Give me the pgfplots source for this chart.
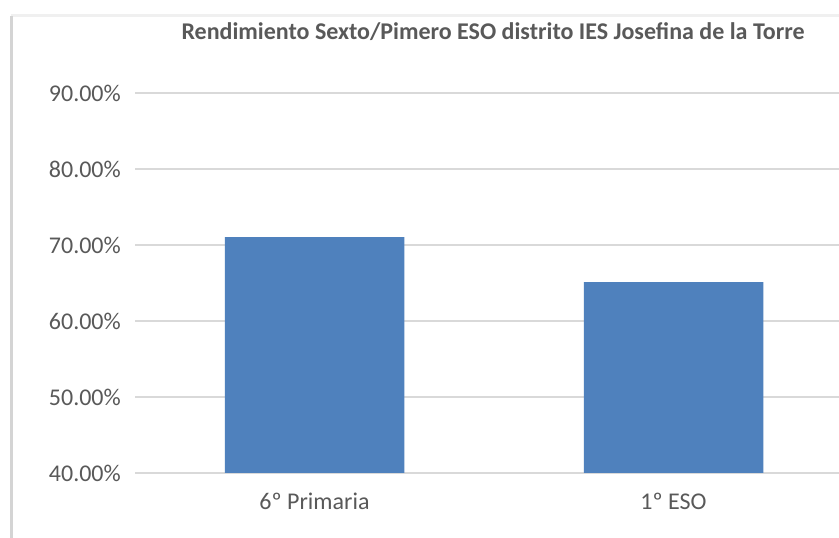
\documentclass[border=0pt]{standalone}
\usepackage{pgfplots}
\pgfplotsset{compat=1.18}
\usepackage{fontspec}
\setmainfont{Carlito}
\definecolor{barblue}{HTML}{4F81BD}
\definecolor{gridgray}{HTML}{D9D9D9}
\definecolor{txtgray}{HTML}{595959}
\definecolor{framegray}{HTML}{D4D4D4}
\definecolor{topgray}{HTML}{F0F0F0}
\begin{document}
\begin{tikzpicture}[x=1pt,y=1pt]
\path[use as bounding box] (0,0) rectangle (839,538);
\fill[white] (0,0) rectangle (839,538);
\draw[topgray, line width=3pt] (11,522) -- (839,522);
\draw[framegray, line width=2.5pt] (11.5,522) -- (11.5,0);
\begin{axis}[
  at={(135pt,65pt)}, anchor=south west,
  scale only axis, width=704pt, height=380pt,
  xmin=-0.5, xmax=1.461, ymin=40, ymax=90,
  axis line style={draw=none},
  clip=true,
  ybar, bar width=0.5,
  xtick={0,1}, xticklabels={6º Primaria,1º ESO},
  ytick={40,50,60,70,80,90},
  yticklabels={40.00\%,50.00\%,60.00\%,70.00\%,80.00\%,90.00\%},
  major tick length=0pt,
  ymajorgrids, grid style={gridgray, line width=1.5pt},
  yticklabel style={anchor=east, inner sep=0pt, xshift=-14pt, text=txtgray, font=\fontsize{24}{28}\selectfont},
  xticklabel style={anchor=base, inner sep=0pt, yshift=-37pt, text=txtgray, font=\fontsize{24}{28}\selectfont},
]
\addplot[fill=barblue, draw=none] coordinates {(0,71.05) (1,65.13)};
\end{axis}
\node[anchor=base, text=txtgray, font=\fontsize{24}{28}\selectfont\bfseries, inner sep=0pt] at (493,498) {Rendimiento Sexto/Pimero ESO distrito IES Josefina de la Torre};
\end{tikzpicture}
\end{document}
